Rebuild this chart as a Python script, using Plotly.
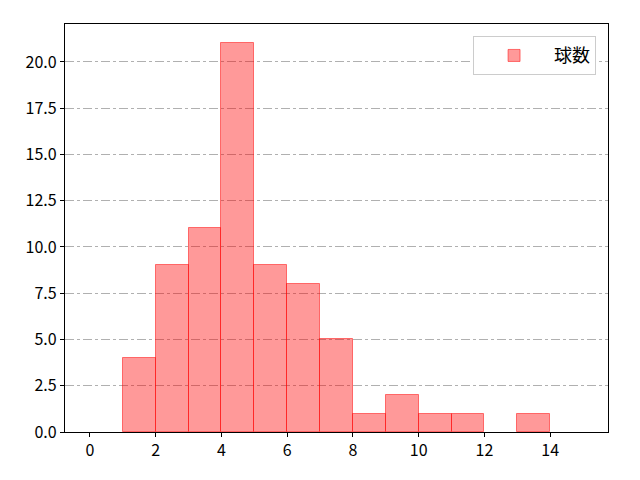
import plotly.graph_objects as go

# histogram bins (left edges, width 1) and counts
bin_left = [0, 1, 2, 3, 4, 5, 6, 7, 8, 9, 10, 11, 12, 13, 14]
counts = [0, 4, 9, 11, 21, 9, 8, 5, 1, 2, 1, 1, 0, 1, 0]
x_ticks = [0, 2, 4, 6, 8, 10, 12, 14]
y_ticks = [0.0, 2.5, 5.0, 7.5, 10.0, 12.5, 15.0, 17.5, 20.0]

# empty bins draw nothing
centers = [b + 0.5 for b, c in zip(bin_left, counts) if c > 0]
heights = [c for c in counts if c > 0]

fig = go.Figure()
fig.add_trace(go.Bar(
    x=centers, y=heights, width=1,
    name="球数",
    marker=dict(color="rgba(255,0,0,0.4)",
                line=dict(color="rgba(255,0,0,0.5)", width=1)),
))

font = "Noto Sans CJK JP, DejaVu Sans, sans-serif"
# page body has an 8px margin, so the figure is shrunk to fit the window
fig.update_layout(
    width=632, height=472,
    margin=dict(l=57, r=32, t=16, b=48),
    plot_bgcolor="white", paper_bgcolor="white",
    font=dict(family=font, size=16, color="black"),
    showlegend=True,
    bargap=0,
    legend=dict(x=0.978, y=0.97, xanchor="right", yanchor="top",
                bordercolor="#cccccc", borderwidth=1, bgcolor="white",
                font=dict(size=18), itemwidth=70),
    xaxis=dict(range=[-0.76, 15.76], tickvals=x_ticks,
               showline=True, linecolor="black", linewidth=1.2, mirror=True,
               ticks="outside", ticklen=4, tickcolor="black",
               showgrid=False, zeroline=False),
    yaxis=dict(range=[0, 22.05], tickvals=y_ticks,
               tickformat=".1f",
               showline=True, linecolor="black", linewidth=1.2, mirror=True,
               ticks="outside", ticklen=4, tickcolor="black",
               showgrid=True, gridcolor="#b0b0b0", griddash="dashdot",
               gridwidth=0.8, zeroline=False),
)

fig.write_html("out.html")
